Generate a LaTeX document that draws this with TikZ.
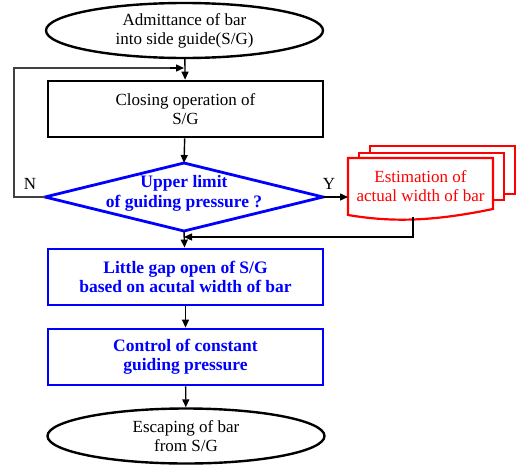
\documentclass[tikz,border=0pt]{standalone}
\usepackage{fontspec}
\setmainfont{Liberation Serif}
\usetikzlibrary{arrows.meta,shapes.geometric}
\begin{document}
\begin{tikzpicture}[x=1pt,y=-1pt,
  txt/.style={font=\fontsize{17}{19}\selectfont, align=center, inner sep=0pt},
  term/.style={draw, ellipse, line width=2.4pt, minimum width=277pt, minimum height=55pt, inner sep=0pt},
  blackbox/.style={draw, line width=2.6pt, minimum width=275pt, minimum height=56pt, inner sep=0pt},
  bluebox/.style={draw=blue, text=blue, line width=2.8pt, minimum width=275pt, minimum height=56pt, inner sep=0pt, font=\fontsize{17.5}{18.5}\selectfont\bfseries, align=center},
  conn/.style={line width=1.4pt, -{Triangle[length=8pt,width=7pt]}},
  plain/.style={line width=1.3pt},
  page/.style={draw=red, line width=2.2pt, fill=white}
]
\useasboundingbox (0,0) rectangle (519,466);
% top terminal
\node[term, txt] (start) at (184.5,30.5) {\fontsize{17}{23}\selectfont Admittance of bar\\into side guide(S/G)};
% closing
\node[blackbox, txt] (close) at (185.5,109) {\fontsize{17}{23}\selectfont Closing operation of\\S/G};
% diamond
\coordinate (dl) at (45,197);
\coordinate (dt) at (184,163);
\coordinate (dr) at (323,197);
\coordinate (db) at (184,231);
\draw[blue, line width=2.8pt, line join=miter] (dl) -- (dt) -- (dr) -- (db) -- cycle;
\node[txt, text=blue, font=\fontsize{17.5}{20}\selectfont\bfseries] (dtext) at (184,193) {Upper limit\\of guiding pressure ?};
% labels
\node[txt] (nlab) at (30,184) {N};
\node[txt] (ylab) at (329,184) {Y};
% document stack
\draw[page] (370,146) rectangle (515,194);
\draw[page] (359,153) rectangle (504,200);
\draw[page] (348,158) -- (493,158) -- (493,209) .. controls (430,222) and (390,222) .. (348,215) -- cycle;
\node[txt, text=red] (est) at (420.5,186) {Estimation of\\actual width of bar};
\coordinate (docin) at (348,197);
\coordinate (docb) at (413,217);
\coordinate (merge) at (184,237);
% rect 2,3
\node[bluebox] (gap) at (185.5,277) {Little gap open of S/G\\based on acutal width of bar};
\node[bluebox] (ctrl) at (185.5,357) {Control of constant\\guiding pressure};
% bottom terminal
\node[term, txt] (end) at (186,436) {Escaping of bar\\from S/G};
% connectors
\draw[conn] (start) -- (close);
\draw[conn] (close) -- (dt);
\draw[conn] (dr) -- (docin);
\draw[conn] (docb) |- (merge);
\draw[conn] (db) -- (gap);
\draw[conn] (gap) -- (ctrl);
\draw[conn] (ctrl) -- (end);
\coordinate (loopin) at (184,68);
\draw[plain, black!75] (dl) -- (14,197) -- (14,68) -- (178,68);
\draw[conn] (170,68) -- (loopin);
\end{tikzpicture}
\end{document}
